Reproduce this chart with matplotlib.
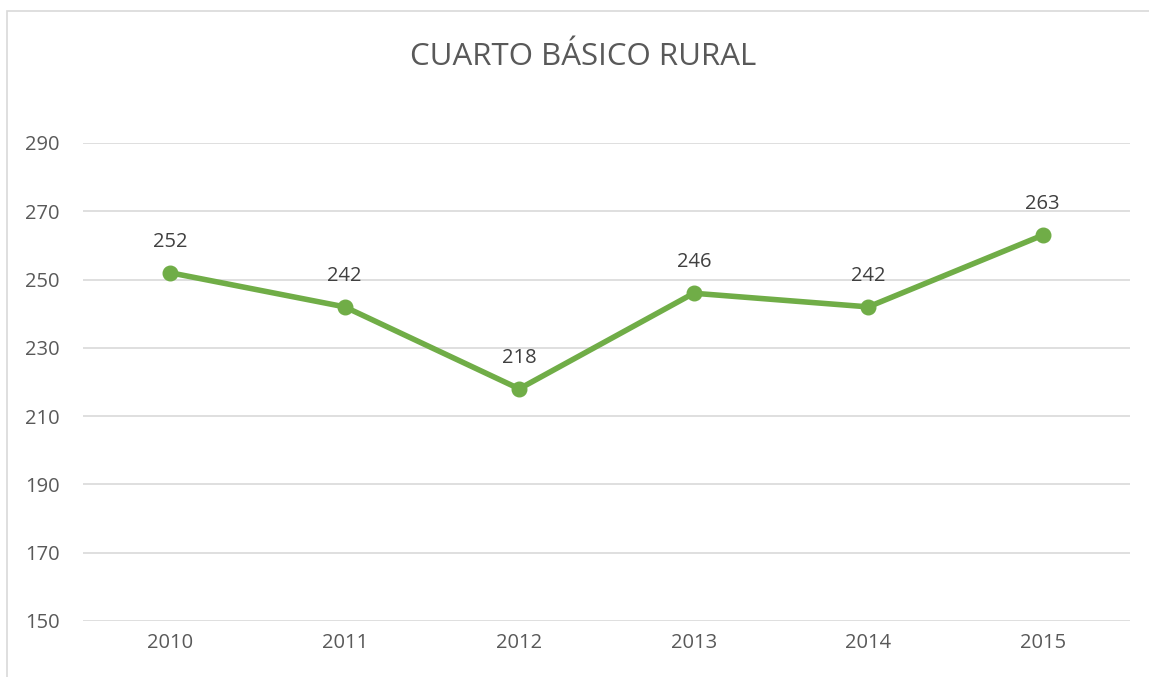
import matplotlib
matplotlib.use("Agg")
import matplotlib.pyplot as plt
from matplotlib.patches import Rectangle

years = ["2010", "2011", "2012", "2013", "2014", "2015"]
values = [252, 242, 218, 246, 242, 263]
yticks = [150, 170, 190, 210, 230, 250, 270, 290]

plt.rcParams['font.family'] = ['Open Sans', 'DejaVu Sans']
W, H = 1149, 677
fig = plt.figure(figsize=(W/100, H/100), dpi=100)
ax = fig.add_axes([83/W, 1-621/H, (1130-83)/W, (621-143)/H])

green = "#70AD47"
txt = "#595959"
x = list(range(len(years)))
ax.plot(x, values, color=green, lw=4.0, marker='o', markersize=10.5, solid_capstyle='round', zorder=3)
for xi, v in zip(x, values):
    ax.annotate(str(v), (xi, v), xytext=(0, 15), textcoords='offset points',
                ha='center', va='bottom', fontsize=14.5, color="#404040")

ax.set_xlim(-0.5, len(years)-0.5)
ax.set_ylim(150, 290)
ax.set_yticks(yticks)
ax.set_xticks(x)
ax.set_xticklabels(years)
ax.grid(axis='y', color="#D9D9D9", lw=1.2)
ax.set_axisbelow(True)
for s in ax.spines.values():
    s.set_visible(False)
ax.tick_params(length=0, labelsize=14.5, colors=txt, pad=9)
ax.tick_params(axis='y', pad=17)

fig.text((405+762)/2/W, 1-57/H, "CUARTO BÁSICO RURAL", ha='center', va='center', fontsize=22.5, color=txt)

fig.patches.append(Rectangle((7/W, -0.05), 1.1, 1-11/H+0.05, transform=fig.transFigure,
                             fill=False, edgecolor="#D9D9D9", lw=1.2, clip_on=False))
fig.savefig("out.png", dpi=100)
